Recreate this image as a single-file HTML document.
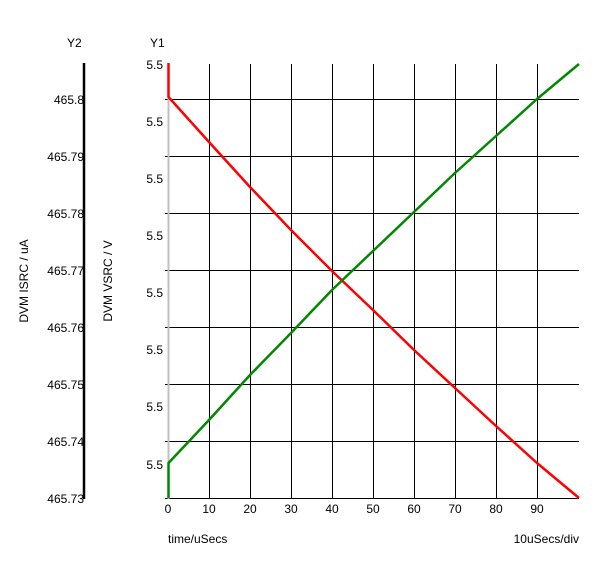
<!DOCTYPE html><html><head><style>body{margin:0;background:#fff}svg{display:block}text{font-family:"Liberation Sans",sans-serif;font-size:12px;fill:#000}</style></head><body>
<svg width="600" height="563" xmlns="http://www.w3.org/2000/svg">
<g stroke="#000" stroke-width="1">
<line x1="209.5" y1="64" x2="209.5" y2="499"/><line x1="250.5" y1="64" x2="250.5" y2="499"/><line x1="291.5" y1="64" x2="291.5" y2="499"/><line x1="332.5" y1="64" x2="332.5" y2="499"/><line x1="373.5" y1="64" x2="373.5" y2="499"/><line x1="414.5" y1="64" x2="414.5" y2="499"/><line x1="455.5" y1="64" x2="455.5" y2="499"/><line x1="496.5" y1="64" x2="496.5" y2="499"/><line x1="537.5" y1="64" x2="537.5" y2="499"/>
<line x1="165" y1="99.5" x2="579" y2="99.5"/><line x1="165" y1="156.5" x2="579" y2="156.5"/><line x1="165" y1="213.5" x2="579" y2="213.5"/><line x1="165" y1="270.5" x2="579" y2="270.5"/><line x1="165" y1="327.5" x2="579" y2="327.5"/><line x1="165" y1="384.5" x2="579" y2="384.5"/><line x1="165" y1="441.5" x2="579" y2="441.5"/><line x1="165" y1="498.5" x2="579" y2="498.5"/>
</g>
<line x1="168.5" y1="64" x2="168.5" y2="499" stroke="#c0c0c0" stroke-width="2"/>
<line x1="84" y1="63" x2="84" y2="499" stroke="#000" stroke-width="2.5"/>
<polyline points="168.5,63 168.5,97 209,142 250,187 291,230 332,271 373,310 414,350 455,388 496,426 537,463 579,498" fill="none" stroke="#f00" stroke-width="2.5" stroke-linejoin="round"/>
<polyline points="168.5,498 168.5,463 209,420 250,375 291,333 332,290 373,251 414,212 455,173 496,136 537,99 579,64" fill="none" stroke="#080" stroke-width="2.5" stroke-linejoin="round"/>
<text x="67" y="47">Y2</text><text x="150" y="47">Y1</text>
<g text-anchor="end">
<text x="163" y="69">5.5</text><text x="163" y="126">5.5</text><text x="163" y="183">5.5</text><text x="163" y="240">5.5</text><text x="163" y="297">5.5</text><text x="163" y="354">5.5</text><text x="163" y="411">5.5</text><text x="163" y="469">5.5</text>
<text x="84" y="104">465.8</text><text x="84" y="161">465.79</text><text x="84" y="218">465.78</text><text x="84" y="275">465.77</text><text x="84" y="332">465.76</text><text x="84" y="389">465.75</text><text x="84" y="446">465.74</text><text x="84" y="503">465.73</text>
</g>
<g text-anchor="middle">
<text x="168" y="513">0</text><text x="209" y="513">10</text><text x="250" y="513">20</text><text x="291" y="513">30</text><text x="332" y="513">40</text><text x="373" y="513">50</text><text x="414" y="513">60</text><text x="455" y="513">70</text><text x="496" y="513">80</text><text x="537" y="513">90</text>
</g>
<text x="168" y="543">time/uSecs</text>
<text x="579" y="543" text-anchor="end">10uSecs/div</text>
<text transform="translate(28,281) rotate(-90)" text-anchor="middle">DVM ISRC / uA</text>
<text transform="translate(112,281) rotate(-90)" text-anchor="middle">DVM VSRC / V</text>
</svg></body></html>
